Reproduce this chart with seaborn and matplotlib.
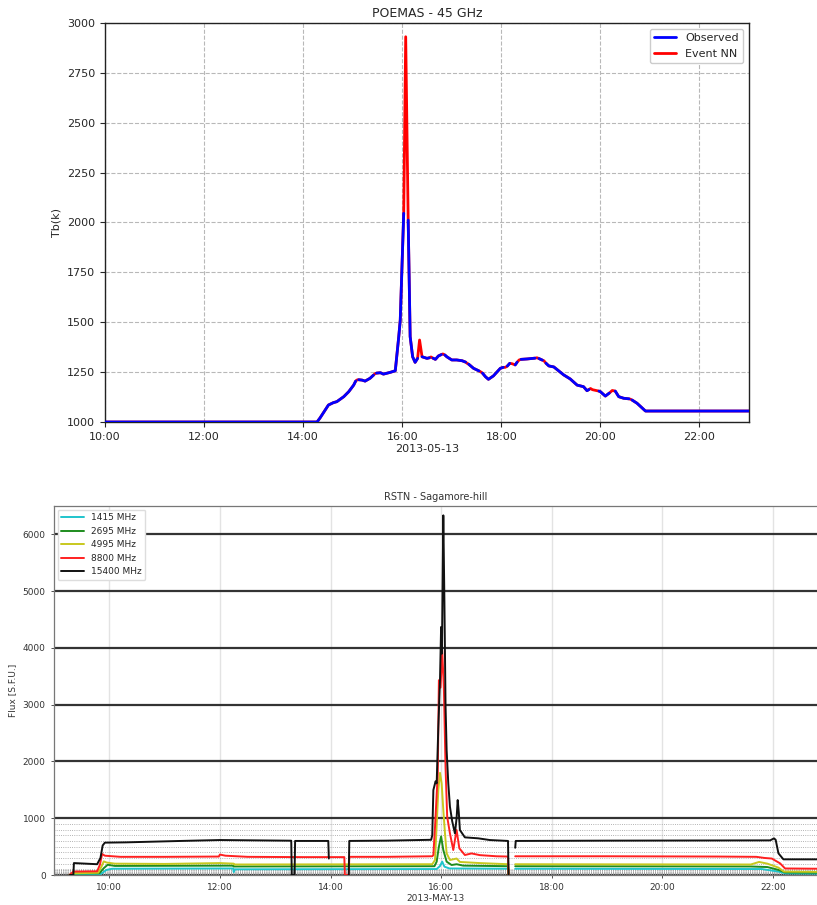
import numpy as np
import pandas as pd
import matplotlib
matplotlib.use('Agg')
import matplotlib.pyplot as plt
import matplotlib.dates as mdates
from matplotlib.lines import Line2D
from matplotlib.ticker import FixedLocator
import seaborn as sns

nan = np.nan

# ---- POEMAS 45 GHz (hours UT, brightness temperature K) ----
poemas_hours = [10.00, 14.28, 14.34, 14.51, 14.61, 14.68, 14.82, 14.92, 15.02, 15.06,
                15.09, 15.12, 15.19, 15.25, 15.35, 15.42, 15.45, 15.48, 15.56, 15.62,
                15.76, 15.86, 15.93, 15.96, 16.03, 16.07, 16.12, 16.16, 16.21, 16.26,
                16.31, 16.35, 16.40, 16.50, 16.55, 16.58, 16.62, 16.67, 16.73, 16.79,
                16.82, 16.86, 16.90, 17.00, 17.10, 17.21, 17.28, 17.31, 17.34, 17.44,
                17.55, 17.58, 17.62, 17.68, 17.74, 17.84, 17.98, 18.04, 18.08, 18.12,
                18.17, 18.22, 18.28, 18.32, 18.36, 18.40, 18.52, 18.68, 18.72, 18.76,
                18.83, 18.86, 18.90, 18.96, 19.06, 19.26, 19.39, 19.53, 19.66, 19.73,
                19.77, 19.80, 19.84, 19.93, 19.97, 20.00, 20.10, 20.18, 20.24, 20.30,
                20.37, 20.47, 20.58, 20.61, 20.64, 20.74, 20.91, 23.00]
tb_event_nn = [1000, 1000, 1020, 1085, 1097, 1102, 1127, 1152, 1185, 1205,
               1211, 1212, 1210, 1205, 1219, 1235, 1242, 1245, 1247, 1240,
               1249, 1257, 1428, 1511, 2046, 2931, 2012, 1428, 1327, 1299,
               1319, 1411, 1327, 1319, 1322, 1326, 1320, 1314, 1331, 1338,
               1341, 1336, 1327, 1311, 1311, 1307, 1300, 1294, 1290, 1269,
               1256, 1252, 1245, 1227, 1214, 1231, 1269, 1274, 1274, 1280,
               1294, 1292, 1286, 1300, 1311, 1314, 1316, 1320, 1322, 1318,
               1310, 1307, 1295, 1281, 1276, 1236, 1216, 1185, 1177, 1157,
               1163, 1168, 1162, 1157, 1155, 1152, 1130, 1145, 1158, 1155,
               1127, 1119, 1116, 1114, 1110, 1094, 1055, 1055]
tb_observed = [1000, 1000, 1020, 1085, 1097, 1102, 1127, 1152, 1185, 1205,
               nan, 1212, 1210, 1205, 1219, 1235, nan, 1245, 1247, 1240,
               1249, 1257, 1428, 1511, 2046, nan, 2012, 1428, 1327, 1299,
               1319, nan, 1327, 1319, 1322, nan, 1320, 1314, 1331, 1338,
               nan, 1336, 1327, 1311, 1311, 1307, 1300, nan, 1290, 1269,
               1256, nan, 1245, 1227, 1214, 1231, 1269, 1274, nan, 1280,
               1294, nan, 1286, 1300, nan, 1314, 1316, 1320, nan, 1318,
               1310, nan, 1295, 1281, 1276, 1236, 1216, 1185, 1177, 1157,
               1163, nan, 1162, nan, 1155, 1152, 1130, 1145, nan, 1155,
               1127, 1119, 1116, nan, 1110, 1094, 1055, 1055]

# ---- RSTN Sagamore Hill (hours UT, flux SFU) ----
f15400_hours = [9.28, 9.35, 9.36, 9.78, 9.84, 9.88, 9.92, 10.30, 10.74, 11.30, 12.00,
                13.29, 13.30, 13.35, 13.36, 13.96, 13.97, 13.98, 14.33, 14.34, 15.00,
                15.82, 15.84, 15.86, 15.90, 15.92, 15.95, 15.98, 16.00, 16.015, 16.03,
                16.04, 16.06, 16.08, 16.10, 16.13, 16.16, 16.20, 16.25, 16.28, 16.30,
                16.32, 16.34, 16.43, 16.67, 16.88, 17.21, 17.22, 17.23, 17.34, 17.35,
                19.00, 21.95, 22.02, 22.05, 22.10, 22.19, 22.85]
f15400_flux = [0, 0, 210, 190, 300, 520, 570, 575, 586, 600, 616,
               604, 0, 0, 600, 600, 290, nan, 0, 600, 605,
               620, 700, 1496, 1650, 1613, 2610, 3431, 4369, 3900, 5400,
               6335, 4800, 3000, 2200, 1613, 1202, 950, 733, 1000, 1320,
               1100, 792, 663, 646, 616, 600, 0, nan, 480, 600,
               605, 610, 645, 620, 382, 276, 276]

f8800_hours = [9.28, 9.35, 9.78, 9.83, 9.87, 9.92, 10.20, 11.00, 11.98, 12.00, 12.10,
               12.50, 13.50, 14.25, 14.26, 14.33, 14.34, 15.00, 15.84, 15.86, 15.89,
               15.94, 15.96, 15.99, 16.02, 16.05, 16.08, 16.11, 16.16, 16.22, 16.28,
               16.33, 16.43, 16.55, 16.70, 17.00, 17.21, 17.22, 17.23, 17.34, 19.00,
               21.00, 21.70, 21.85, 21.98, 22.13, 22.22, 22.85]
f8800_flux = [0, 60, 65, 180, 370, 340, 320, 320, 325, 360, 340,
              320, 315, 315, 0, 0, 320, 320, 330, 352, 850,
              1790, 3431, 3300, 3960, 3300, 1906, 1026, 733, 440, 792,
              470, 352, 380, 350, 330, 325, 0, nan, 330, 330,
              325, 320, 300, 290, 205, 115, 110]

f4995_hours = [9.28, 9.35, 9.80, 9.86, 9.90, 9.95, 10.10, 11.00, 12.00, 12.25, 12.26,
               15.84, 15.89, 15.95, 15.98, 16.01, 16.04, 16.07, 16.10, 16.16, 16.28,
               16.34, 16.70, 17.21, 17.22, 17.23, 17.34, 21.60, 21.75, 21.90, 22.10,
               22.20, 22.85]
f4995_flux = [0, 30, 40, 150, 240, 220, 200, 195, 210, 200, 185,
              190, 264, 1496, 1800, 1613, 1144, 733, 382, 264, 290,
              230, 210, 190, 0, nan, 190, 185, 230, 200, 130,
              60, 55]

f2695_hours = [9.28, 9.35, 9.82, 9.90, 9.97, 10.10, 12.24, 12.25, 15.88, 15.92, 15.96,
               16.00, 16.04, 16.10, 16.19, 16.28, 16.40, 17.21, 17.22, 17.23, 17.34,
               21.60, 21.90, 22.10, 22.22, 22.85]
f2695_flux = [0, 25, 30, 120, 180, 160, 165, 150, 155, 235, 498,
              680, 440, 235, 176, 190, 165, 155, 0, nan, 155,
              150, 140, 90, 45, 40]

f1415_hours = [9.28, 9.35, 9.85, 9.95, 10.05, 12.24, 12.25, 12.27, 15.92, 15.98, 16.02,
               16.06, 16.15, 17.21, 17.22, 17.23, 17.34, 21.80, 22.10, 22.22, 22.85]
f1415_flux = [0, 10, 20, 90, 110, 115, 50, 100, 105, 158, 235,
              147, 115, 110, 0, nan, 110, 105, 60, 30, 25]

rstn_labels = ['1415 MHz', '2695 MHz', '4995 MHz', '8800 MHz', '15400 MHz']
rstn_colors = ['#1fc4cc', '#1e8c1e', '#c8c81e', '#ff2020', '#111111']

day = pd.Timestamp('2013-05-13')


def to_frame(hours, values):
    df = pd.DataFrame({'time': day + pd.to_timedelta(np.array(hours), unit='h'),
                       'value': np.array(values, dtype=float)})
    df['seg'] = df['value'].isna().cumsum()
    return df.dropna()


sns.set_style('white')
plt.rcParams['font.family'] = ['DejaVu Sans']

fig = plt.figure(figsize=(8.17, 9.05), dpi=100)

# ---------------- top: POEMAS ----------------
ax1 = fig.add_axes([105 / 817, 1 - 422 / 905, 644 / 817, 399 / 905])
nn_df = to_frame(poemas_hours, tb_event_nn)
obs_df = to_frame(poemas_hours, tb_observed)
sns.lineplot(data=nn_df, x='time', y='value', units='seg', estimator=None, sort=False,
             color='#ff0000', lw=2, ax=ax1, legend=False, zorder=2)
sns.lineplot(data=obs_df, x='time', y='value', units='seg', estimator=None, sort=False,
             color='#0000ff', lw=2, ax=ax1, legend=False, zorder=3)
ax1.set_xlim(day + pd.Timedelta(hours=10), day + pd.Timedelta(hours=23))
ax1.set_ylim(1000, 3000)
ax1.set_yticks(np.arange(1000, 3001, 250))
ax1.xaxis.set_major_locator(mdates.HourLocator(byhour=range(0, 24, 2)))
ax1.xaxis.set_major_formatter(mdates.DateFormatter('%H:%M'))
ax1.grid(True, ls='--', color='#b8b8b8', lw=0.8)
ax1.tick_params(labelsize=8, length=3.5, width=0.8, direction='out', bottom=True, left=True)
for s in ax1.spines.values():
    s.set_color('#222222')
    s.set_linewidth(1.0)
ax1.set_title('POEMAS - 45 GHz', fontsize=9, pad=4)
ax1.set_xlabel('2013-05-13', fontsize=8, labelpad=2)
ax1.set_ylabel('Tb(k)', fontsize=8)
handles = [Line2D([], [], color='#0000ff', lw=2), Line2D([], [], color='#ff0000', lw=2)]
ax1.legend(handles, ['Observed', 'Event NN'], loc='upper right', fontsize=8,
           handlelength=2.0, framealpha=1, edgecolor='#cccccc', fancybox=True)

# ---------------- bottom: RSTN ----------------
ax2 = fig.add_axes([54 / 817, 1 - 875 / 905, (817 - 54) / 817, 369 / 905])
series = [(f1415_hours, f1415_flux), (f2695_hours, f2695_flux), (f4995_hours, f4995_flux),
          (f8800_hours, f8800_flux), (f15400_hours, f15400_flux)]
for (h, v), col in zip(series, rstn_colors):
    sns.lineplot(data=to_frame(h, v), x='time', y='value', units='seg', estimator=None,
                 sort=False, color=col, lw=1.4, ax=ax2, legend=False, zorder=3)
ax2.set_xlim(day + pd.Timedelta(hours=9), day + pd.Timedelta(hours=9 + 763 / 55.3))
ax2.set_ylim(0, 6500)
ax2.set_yticks(np.arange(0, 6001, 1000))
ax2.yaxis.set_minor_locator(FixedLocator(list(range(10, 100, 10)) + list(range(100, 1000, 100))))
ax2.xaxis.set_major_locator(mdates.HourLocator(byhour=range(0, 24, 2)))
ax2.xaxis.set_major_formatter(mdates.DateFormatter('%H:%M'))
ax2.grid(True, axis='x', color='#e3e3e3', lw=1.0)
ax2.grid(True, axis='y', which='major', color='#333333', lw=1.6)
ax2.grid(True, axis='y', which='minor', color='#9a9a9a', lw=0.6, ls=':')
ax2.tick_params(labelsize=6.5, length=2.5, width=0.6, colors='#333333',
                bottom=True, left=True)
ax2.tick_params(which='minor', left=False)
ax2.spines['right'].set_visible(False)
for s in ['left', 'top', 'bottom']:
    ax2.spines[s].set_color('#777777')
    ax2.spines[s].set_linewidth(0.9)
ax2.set_title('RSTN - Sagamore-hill', fontsize=7, color='#333333', pad=4)
ax2.set_xlabel('2013-MAY-13', fontsize=6.5, color='#333333', labelpad=1)
ax2.set_ylabel('Flux [S.F.U.]', fontsize=6.5, color='#333333')
rh = [Line2D([], [], color=c, lw=1.4) for c in rstn_colors]
ax2.legend(rh, rstn_labels, loc='upper left', fontsize=6.5, handlelength=2.5,
           framealpha=1, edgecolor='#dddddd', borderaxespad=0.4)

fig.savefig('out.png', dpi=100)
